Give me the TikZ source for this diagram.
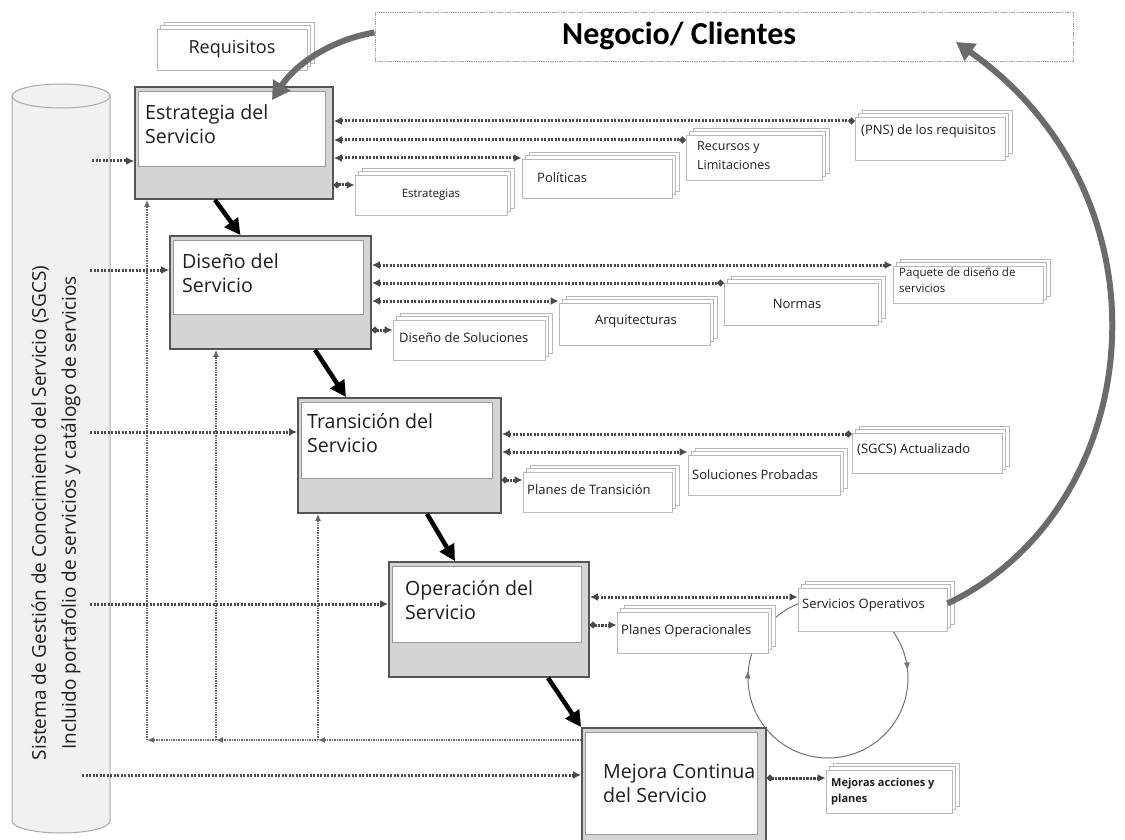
\documentclass[tikz,border=0pt]{standalone}
\usepackage{fontspec}
\setmainfont{Open Sans}
\newfontfamily\calfont{Carlito}
\usetikzlibrary{arrows.meta,shadows,fit,decorations.markings}

\definecolor{boxgray}{HTML}{D4D4D4}
\definecolor{frame}{HTML}{555555}
\definecolor{dotc}{HTML}{4A4A4A}
\definecolor{bigarrow}{HTML}{6B6B6B}
\definecolor{cylfill}{HTML}{F1F1F1}
\definecolor{cylline}{HTML}{A8A8A8}
\definecolor{txt}{HTML}{1E1E1E}

\begin{document}
\begin{tikzpicture}[x=1pt,y=-1pt,
  procouter/.style={draw=frame, line width=1.8pt, fill=boxgray, inner sep=0pt},
  procinner/.style={draw=black!40, line width=0.8pt, fill=white, inner sep=0pt},
  proctext/.style={anchor=north west, align=left, inner sep=0pt, text=txt,
    font=\fontsize{19.6}{24}\selectfont},
  outbox/.style={draw=black!28, line width=0.8pt, fill=white, inner sep=0pt,
    copy shadow={shadow xshift=7pt, shadow yshift=7pt, fill=white, draw=black!28, line width=0.8pt},
    copy shadow={shadow xshift=3.5pt, shadow yshift=3.5pt, fill=white, draw=black!28, line width=0.8pt}},
  outtext/.style={inner sep=0pt, text=txt, align=left, font=\fontsize{13}{16}\selectfont},
  flow/.style={draw=black, line width=4.5pt, -{Triangle[length=16pt,width=16pt]}},
  big/.style={draw=bigarrow, line width=6pt, -{Triangle[length=18pt,width=20pt]}},
  dline/.style={draw=dotc, line width=3pt, dash pattern=on 2.2pt off 1.3pt},
  dboth/.style={dline, {Latex[length=8pt,width=8pt]}-{Latex[length=8pt,width=8pt]}},
  dtodot/.style={dline, {Latex[length=8pt,width=8pt]}-{Circle[length=6pt]}},
  ddotto/.style={dline, {Circle[length=6pt]}-{Latex[length=8pt,width=8pt]}},
  dto/.style={dline, -{Latex[length=8pt,width=8pt]}},
  fb/.style={draw=black!60, line width=1.3pt, dash pattern=on 1pt off 0.7pt,
    -{Latex[length=7pt,width=6pt]}}
]
\useasboundingbox (0,0) rectangle (1125,840);
\clip (0,0) rectangle (1125,840);

% knowledge base cylinder
\path[fill=cylfill, draw=cylline, line width=1pt] (12,96) -- (12,821)
  arc[start angle=180, end angle=360, x radius=49pt, y radius=12pt] -- (110,96) -- cycle;
\path[fill=cylfill, draw=cylline, line width=1pt] (61,96) ellipse[x radius=49pt, y radius=12pt];
\node[rotate=90, align=center, text=txt, font=\fontsize{19}{30}\selectfont] (sgcs) at (56,513)
  {Sistema de Gestión de Conocimiento del Servicio (SGCS)\\Incluido portafolio de servicios y catálogo de servicios};

% operations / improvement cycle
\node[circle, draw=black!55, line width=1pt, inner sep=0pt, minimum size=160pt,
  postaction={decorate}, decoration={markings,
    mark=at position 0.015 with {\arrowreversed{Latex[length=8pt,width=6pt]}},
    mark=at position 0.485 with {\arrowreversed{Latex[length=8pt,width=6pt]}}}] (cyc) at (828,678) {};

% business / customers
\node[fit={(375,13) (1073,62)}, draw=black!35, line width=1pt, dash pattern=on 1.2pt off 0.6pt,
  fill=white, inner sep=0pt] (neg) {};
\node[anchor=west, inner sep=0pt, text=black, font=\calfont\bfseries\fontsize{32}{32}\selectfont]
  (negt) at (562,36) {Negocio/ Clientes};

\node[outbox, fit={(157,29) (307,70)}] (req) {};
\node[outtext, font=\fontsize{18}{20}\selectfont] (reqt) at (req.center) {Requisitos};

% lifecycle stages
\node[procouter, fit={(135,87) (333,199)}] (est) {};
\node[procinner, fit={(138,91) (325,166)}] (esti) {};
\node[proctext] (estt) at (145,104) {Estrategia del\\Servicio};

\node[procouter, fit={(170,236) (371,349)}] (dis) {};
\node[procinner, fit={(173,240) (363,314)}] (disi) {};
\node[proctext] (dist) at (182,253) {Diseño del\\Servicio};

\node[procouter, fit={(298,398) (501,513)}] (tra) {};
\node[procinner, fit={(301,402) (492,478)}] (trai) {};
\node[proctext] (trat) at (307,413) {Transición del\\Servicio};

\node[procouter, fit={(389,562) (589,677)}] (ope) {};
\node[procinner, fit={(392,566) (581,642)}] (opei) {};
\node[proctext] (opet) at (405,580) {Operación del\\Servicio};

\node[procouter, fit={(582,728) (766,860)}] (mej) {};
\node[procinner, fit={(585,732) (757,834)}] (meji) {};
\node[proctext] (mejt) at (603,764) {Mejora Continua\\del Servicio};

% feedback from improvement to earlier stages
\coordinate (f1) at (147,740);
\coordinate (f2) at (216,740);
\coordinate (f3) at (318,740);
\draw[fb] (mej.west |- f3) -- (f3);
\draw[fb] (f3) -- (f2);
\draw[fb] (f2) -- (f1);
\draw[fb] (f1) -- (est.south -| f1);
\draw[fb] (f2) -- (dis.south -| f2);
\draw[fb] (f3) -- (tra.south -| f3);

% inputs from the knowledge base
\coordinate (s1) at (92,161);
\coordinate (s2) at (90,270);
\coordinate (s3) at (90,432);
\coordinate (s4) at (90,604);
\coordinate (s5) at (82,775);
\draw[dto] (s1) -- (est.west |- s1);
\draw[dto] (s2) -- (dis.west |- s2);
\draw[dto] (s3) -- (tra.west |- s3);
\draw[dto] (s4) -- (ope.west |- s4);
\draw[dto] (s5) -- (mej.west |- s5);

% outputs of each stage
\node[outbox, fit={(355,175) (507,215)}] (estrs) {};
\node[outtext, font=\fontsize{11.5}{13}\selectfont] (estrst) at (estrs.center) {Estrategias};
\node[outbox, fit={(522,159) (672,198)}] (pol) {};
\node[outtext, anchor=west] (polt) at (537,178) {Políticas};
\node[outbox, fit={(686,135) (822,180)}] (rec) {};
\node[outtext, anchor=north west, font=\fontsize{12.5}{19}\selectfont] (rect) at (697,141) {Recursos y\\Limitaciones};
\node[outbox, fit={(855,117) (1005,160)}] (pns) {};
\node[outtext, anchor=west] (pnst) at (861,131) {(PNS) de los requisitos};

\node[outbox, fit={(393,320) (545,360)}] (sol) {};
\node[outtext, anchor=west] (solt) at (399,338) {Diseño de Soluciones};
\node[outbox, fit={(559,303) (710,345)}] (arq) {};
\node[outtext] (arqt) at (636,321) {Arquitecturas};
\node[outbox, fit={(724,283) (878,325)}] (nor) {};
\node[outtext] (nort) at (797,304) {Normas};
\node[outbox, fit={(893,266) (1043,303)}] (paq) {};
\node[outtext, anchor=north west, font=\fontsize{11.5}{16}\selectfont] (paqt) at (899,268) {Paquete de diseño de\\servicios};

\node[outbox, fit={(523,472) (672,512)}] (ptr) {};
\node[outtext, anchor=west] (ptrt) at (527,490) {Planes de Transición};
\node[outbox, fit={(688,455) (840,495)}] (spr) {};
\node[outtext, anchor=west] (sprt) at (692,475) {Soluciones Probadas};
\node[outbox, fit={(852,433) (1002,473)}] (sgu) {};
\node[outtext, anchor=west] (sgut) at (857,450) {(SGCS) Actualizado};

\node[outbox, fit={(617,612) (768,653)}] (pop) {};
\node[outtext, anchor=west] (popt) at (621,631) {Planes Operacionales};
\node[outbox, fit={(798,588) (947,631)}] (sop) {};
\node[outtext, anchor=west] (sopt) at (802,605) {Servicios Operativos};

\node[outbox, fit={(826,770) (952,813)}] (mac) {};
\node[outtext, anchor=north west, font=\bfseries\fontsize{11}{16}\selectfont] (mact) at (831,778) {Mejoras acciones y\\planes};

% stage to output links
\draw[dtodot] (est.east |- 0,121) -- (pns.west |- 0,121);
\draw[dtodot] (est.east |- 0,140) -- (rec.west |- 0,140);
\draw[dboth]  (est.east |- 0,158) -- (pol.west |- 0,158);
\draw[ddotto] (est.east |- 0,185) -- (estrs.west |- 0,185);

\draw[dboth]  (dis.east |- 0,265) -- (paq.west |- 0,265);
\draw[dtodot] (dis.east |- 0,283) -- (nor.west |- 0,283);
\draw[dboth]  (dis.east |- 0,301) -- (arq.west |- 0,301);
\draw[ddotto] (dis.east |- 0,330) -- (sol.west |- 0,330);

\draw[dtodot] (tra.east |- 0,434) -- (sgu.west |- 0,434);
\draw[dboth]  (tra.east |- 0,452) -- (spr.west |- 0,452);
\draw[ddotto] (tra.east |- 0,480) -- (ptr.west |- 0,480);

\draw[dboth]  (ope.east |- 0,597) -- (sop.west |- 0,597);
\draw[ddotto] (ope.east |- 0,625) -- (pop.west |- 0,625);

\draw[ddotto] (mej.east |- 0,778) -- (mac.west |- 0,778);

% lifecycle sequence
\draw[flow] ([xshift=-19pt]est.south) -- ([xshift=-30pt]dis.north);
\draw[flow] ([xshift=44.5pt]dis.south) -- ([xshift=-53.5pt]tra.north);
\draw[flow] ([xshift=27.5pt]tra.south) -- ([xshift=-34pt]ope.north);
\draw[flow] ([xshift=59pt]ope.south) -- (mej.north west);

% business loop
\coordinate (tipA) at (272,100);
\coordinate (tipB) at (956,42);
\draw[big] ([yshift=5pt]neg.west) .. controls (330,40) and (295,65) .. (tipA);
\draw[big] ([yshift=6pt]sop.east) .. controls (1145,510) and (1180,200) .. (tipB);
\end{tikzpicture}
\end{document}
